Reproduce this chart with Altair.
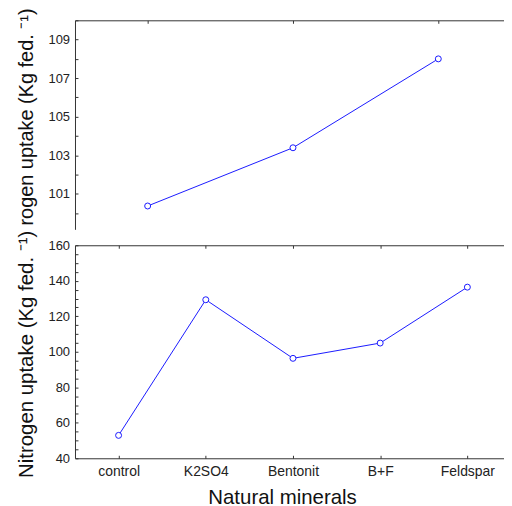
import altair as alt
import pandas as pd

FONT = "Liberation Sans"

# Top panel (cropped in the reference): three treatments, labels hidden
top_categories = ["T1", "T2", "T3"]
top_values = [100.37, 103.39, 108.0]
top_y_ticks = list(range(100, 111))
top_title = "rogen uptake (Kg fed. \u207b\u00b9)"

# Bottom panel
categories = ["control", "K2SO4", "Bentonit", "B+F", "Feldspar"]
values = [52.9, 129.3, 96.3, 104.9, 136.4]
bottom_y_ticks = list(range(40, 161, 5))
y_title = "Nitrogen uptake (Kg fed. \u207b\u00b9)"
x_title = "Natural minerals"

BLUE = "#1a1aff"
AX = "#333333"

df_top = pd.DataFrame({"cat": top_categories, "val": top_values})
df_bot = pd.DataFrame({"cat": categories, "val": values})

W = 438

# ---------- top panel ----------
top_xs = alt.Scale(type="point", padding=0.5, domain=top_categories)
top_ys = alt.Scale(domain=[99.16, 110], nice=False, zero=False)

top_line = alt.Chart(df_top).mark_line(color=BLUE, strokeWidth=1).encode(
    x=alt.X("cat:N", scale=top_xs, axis=alt.Axis(
        orient="top", offset=-3, tickSize=3, domain=False, labels=False,
        title=None, grid=False, tickColor=AX)),
    y=alt.Y("val:Q", scale=top_ys, axis=alt.Axis(
        orient="left", offset=-3, tickSize=3, domain=False, grid=False,
        values=top_y_ticks, tickColor=AX,
        labelExpr="datum.value % 2 == 1 ? datum.label : ''",
        labelPadding=5.5, labelFontSize=13, labelFont=FONT, labelColor="#222",
        labelFlush=False, labelOverlap=False,
        title=top_title, titleFont=FONT, titleFontSize=20, titleFontWeight="normal",
        titleColor="#111", titleAngle=-90, titleAlign="left", titleBaseline="alphabetic",
        titleX=-45.7, titleY=205.7)),
)
top_pts = alt.Chart(df_top).mark_point(
    shape="circle", filled=False, fill="white", fillOpacity=1, color=BLUE,
    strokeWidth=1, size=36, opacity=1).encode(
    x=alt.X("cat:N", scale=top_xs, axis=alt.Axis(
        orient="top", domain=True, domainColor=AX, ticks=False, labels=False,
        title=None, grid=False)),
    y=alt.Y("val:Q", scale=top_ys, axis=alt.Axis(
        orient="left", domain=True, domainColor=AX, ticks=False, labels=False,
        title=None, grid=False)),
)
top = alt.layer(top_line, top_pts).resolve_axis(x="independent", y="independent").properties(
    width=W, height=210, view=alt.ViewBackground(stroke=None))

# ---------- bottom panel ----------
bot_xs = alt.Scale(type="point", padding=0.5, domain=categories)
bot_ys = alt.Scale(domain=[40, 160], nice=False, zero=False)

bot_yaxis = alt.Axis(
    orient="left", offset=-3, tickSize=3, domain=False, grid=False,
    values=bottom_y_ticks, tickColor=AX,
    labelExpr="datum.value % 20 == 0 ? datum.label : ''",
    labelPadding=5.5, labelFontSize=13, labelFont=FONT, labelColor="#222",
    labelFlush=False, labelOverlap=False,
    title=y_title, titleFont=FONT, titleFontSize=20.5, titleFontWeight="normal",
    titleColor="#111", titleAngle=-90, titleAlign="left", titleBaseline="alphabetic",
    titleX=-45.7, titleY=233.3)

bot_line = alt.Chart(df_bot).mark_line(color=BLUE, strokeWidth=1).encode(
    x=alt.X("cat:N", scale=bot_xs, axis=alt.Axis(
        orient="bottom", offset=-3, tickSize=3, domain=False, grid=False,
        tickColor=AX, labelAngle=0, labelPadding=6, labelFontSize=14,
        labelFont=FONT, labelColor="#222",
        title=x_title, titleFont=FONT, titleFontSize=20.5, titleFontWeight="normal",
        titleColor="#111", titleAlign="center", titleBaseline="alphabetic",
        titleX=208, titleY=48.2)),
    y=alt.Y("val:Q", scale=bot_ys, axis=bot_yaxis),
)
bot_pts = alt.Chart(df_bot).mark_point(
    shape="circle", filled=False, fill="white", fillOpacity=1, color=BLUE,
    strokeWidth=1, size=36, opacity=1).encode(
    x=alt.X("cat:N", scale=bot_xs, axis=alt.Axis(
        orient="top", offset=-3, tickSize=3, domain=False, labels=False,
        title=None, grid=False, tickColor=AX)),
    y=alt.Y("val:Q", scale=bot_ys, axis=bot_yaxis),
)
bottom = alt.layer(bot_line, bot_pts).resolve_axis(x="independent").properties(
    width=W, height=214, view=alt.ViewBackground(stroke=AX))

chart = alt.vconcat(top, bottom, spacing=16, bounds="flush").properties(
    padding={"left": 7.3, "top": -1.8, "right": -8, "bottom": 0},
    background="white",
)

chart.save("out.html", embed_options={"renderer": "svg", "actions": False})
